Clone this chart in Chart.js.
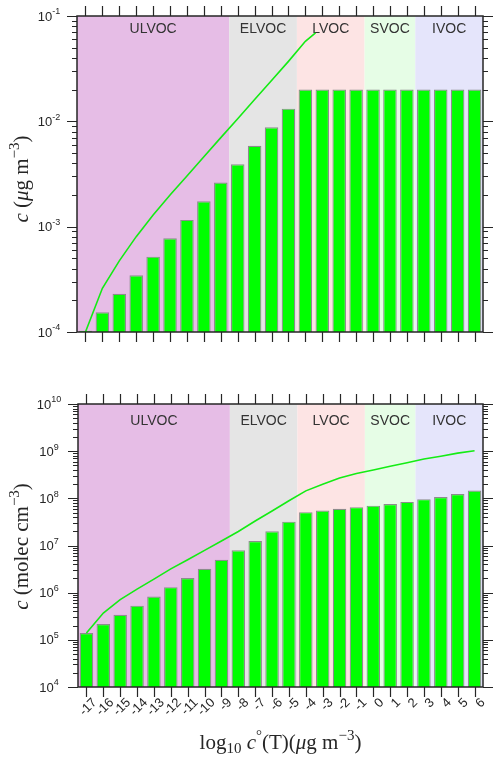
<!DOCTYPE html>
<html>
<head>
<meta charset="utf-8">
<script src="https://cdn.jsdelivr.net/npm/chart.js@4.4.1/dist/chart.umd.min.js"></script>
<style>
  body { margin: 0; background: #fff; }
  #wrap { position: relative; width: 500px; height: 759px; }
  canvas { position: absolute; left: 0; }
</style>
</head>
<body>
<div id="wrap">
  <canvas id="massChart" width="500" height="380" style="top:0"></canvas>
  <canvas id="molecChart" width="500" height="379" style="top:380px"></canvas>
</div>
<script>
// ===== DATA =====
const binCenters = [-17, -16, -15, -14, -13, -12, -11, -10, -9, -8, -7, -6, -5, -4, -3, -2, -1, 0, 1, 2, 3, 4, 5, 6];

// top panel: mass concentration (ug m-3)
const massBars = [1.03e-4, 1.54e-4, 2.31e-4, 3.45e-4, 5.19e-4, 7.76e-4, 1.16e-3, 1.74e-3, 2.62e-3, 3.91e-3, 5.87e-3, 8.79e-3, 1.32e-2,
                  0.02, 0.02, 0.02, 0.02, 0.02, 0.02, 0.02, 0.02, 0.02, 0.02, 0.02];
const massLineX = [-17, -16, -15, -14, -13, -12, -11, -10, -9, -8, -7, -6, -5, -4, -3.4];
const massLineY = [1.0e-4, 2.6e-4, 4.73e-4, 8.04e-4, 1.29e-3, 2.0e-3, 3.03e-3, 4.61e-3, 7.0e-3, 1.06e-2, 1.61e-2, 2.44e-2, 3.71e-2, 5.75e-2, 6.9e-2];
const massTickExps = [-4, -3, -2, -1];

// bottom panel: number concentration (molec cm-3)
const molecBars = [1.39e5, 2.16e5, 3.4e5, 5.3e5, 8.3e5, 1.31e6, 2.04e6, 3.2e6, 5.0e6, 7.9e6, 1.25e7, 2.0e7, 3.2e7,
                   5.1e7, 5.5e7, 6.0e7, 6.5e7, 7.0e7, 7.6e7, 8.4e7, 9.6e7, 1.07e8, 1.23e8, 1.46e8];
const molecLineX = binCenters;
const molecLineY = [1.39e5, 3.7e5, 7.1e5, 1.19e6, 1.94e6, 3.2e6, 4.98e6, 7.9e6, 1.25e7, 1.98e7, 3.3e7, 5.4e7, 8.9e7,
                    1.44e8, 2.0e8, 2.7e8, 3.35e8, 4.0e8, 4.8e8, 5.7e8, 6.8e8, 7.8e8, 9.1e8, 1.02e9];
const molecTickExps = [4, 5, 6, 7, 8, 9, 10];

// volatility classes
const classNames = ['ULVOC', 'ELVOC', 'LVOC', 'SVOC', 'IVOC'];
const classEdges = [-17.5, -8.5, -4.5, -0.5, 2.5, 6.5];
const classColors = ['#e6bde6', '#e5e5e5', '#fde4e4', '#e6fde6', '#e5e5fb'];

const ink = '#262626';

// ===== helpers =====
function drawRich(ctx, parts, size, cx, cy, angle) {
    const fontFor = p => (p.it ? 'italic ' : '') + Math.round(p.sup || p.sub ? size * 0.7 : size) + 'px "Liberation Serif", serif';
    ctx.save();
    ctx.translate(cx, cy);
    ctx.rotate(angle);
    let w = 0;
    parts.forEach(p => { ctx.font = fontFor(p); w += ctx.measureText(p.t).width; });
    let x = -w / 2;
    ctx.fillStyle = ink;
    ctx.textAlign = 'left';
    ctx.textBaseline = 'alphabetic';
    parts.forEach(p => {
        ctx.font = fontFor(p);
        const dy = p.sup ? -size * 0.42 : p.sub ? size * 0.22 : 0;
        ctx.fillText(p.t, x, size * 0.32 + dy);
        x += ctx.measureText(p.t).width;
    });
    ctx.restore();
}

function panelPlugin(cfg) {
    return {
        id: 'panel_' + cfg.name,
        beforeDatasetsDraw(chart) {
            const { ctx, chartArea: a } = chart;
            const x = chart.scales.x;
            ctx.save();
            classNames.forEach((name, i) => {
                const l = x.getPixelForValue(classEdges[i]);
                const r = x.getPixelForValue(classEdges[i + 1]);
                ctx.fillStyle = classColors[i];
                ctx.fillRect(l, a.top, r - l, a.bottom - a.top);
                ctx.fillStyle = '#333';
                ctx.font = '14px "Liberation Sans", Arial, sans-serif';
                ctx.textAlign = 'center';
                ctx.textBaseline = 'middle';
                ctx.fillText(name, (l + r) / 2, a.top + cfg.classLabelDy);
            });
            ctx.restore();
        },
        afterDraw(chart) {
            const { ctx, chartArea: a } = chart;
            const x = chart.scales.x, y = chart.scales.y;
            ctx.save();
            ctx.strokeStyle = ink;
            ctx.lineWidth = 1.2;
            ctx.beginPath();
            binCenters.forEach(c => {
                const px = Math.round(x.getPixelForValue(c)) + 0.5;
                ctx.moveTo(px, a.top); ctx.lineTo(px, a.top - 10);
                ctx.moveTo(px, a.bottom); ctx.lineTo(px, a.bottom + 10);
            });
            const exps = cfg.tickExps;
            exps.forEach((e, k) => {
                for (let m = 1; m <= 9; m++) {
                    if (k === exps.length - 1 && m > 1) break;
                    const py = Math.round(y.getPixelForValue(m * Math.pow(10, e))) + 0.5;
                    const len = m === 1 ? 10 : 5;
                    ctx.moveTo(a.left, py); ctx.lineTo(a.left - len, py);
                    ctx.moveTo(a.right, py); ctx.lineTo(a.right + len, py);
                }
            });
            ctx.stroke();
            ctx.lineWidth = 1.5;
            ctx.strokeRect(a.left, a.top, a.right - a.left, a.bottom - a.top);

            // y tick labels 10^n
            ctx.fillStyle = ink;
            ctx.textAlign = 'left';
            ctx.textBaseline = 'middle';
            exps.forEach(e => {
                const py = y.getPixelForValue(Math.pow(10, e));
                const expTxt = String(e);
                ctx.font = '13px "Liberation Sans", Arial, sans-serif';
                const wb = ctx.measureText('10').width;
                ctx.font = '9px "Liberation Sans", Arial, sans-serif';
                const we = ctx.measureText(expTxt).width;
                const x0 = 49 - (wb + we) / 2;
                ctx.font = '13px "Liberation Sans", Arial, sans-serif';
                ctx.fillText('10', x0, py + 1);
                ctx.font = '9px "Liberation Sans", Arial, sans-serif';
                ctx.fillText(expTxt, x0 + wb, py - 4);
            });

            drawRich(ctx, cfg.yTitle, 21, 21, (a.top + a.bottom) / 2 + cfg.yTitleDy, -Math.PI / 2);
            if (cfg.xTitle) {
                drawRich(ctx, cfg.xTitle, 21, (a.left + a.right) / 2, cfg.xTitleY, 0);
            }
            ctx.restore();
        }
    };
}

function makeChart(id, cfg) {
    return new Chart(document.getElementById(id), {
        type: 'bar',
        data: {
            datasets: [
                {
                    type: 'line',
                    data: cfg.lineX.map((v, i) => ({ x: v, y: cfg.lineY[i] })),
                    borderColor: '#14ec14',
                    borderWidth: 1.6,
                    pointRadius: 0,
                    tension: 0,
                    fill: false,
                    order: 0
                },
                {
                    data: binCenters.map((v, i) => ({ x: v, y: cfg.bars[i] })),
                    backgroundColor: '#00ff00',
                    borderColor: '#8c8c8c',
                    borderWidth: 1.2,
                    barPercentage: 0.8,
                    categoryPercentage: 1.0,
                    order: 1
                }
            ]
        },
        options: {
            responsive: false,
            animation: false,
            layout: { padding: { top: cfg.padTop, right: 17, bottom: 0, left: 0 } },
            plugins: { legend: { display: false }, tooltip: { enabled: false } },
            scales: {
                x: {
                    type: 'linear',
                    offset: false,
                    min: classEdges[0],
                    max: classEdges[classEdges.length - 1],
                    grid: { display: false, drawTicks: false },
                    border: { display: false },
                    afterBuildTicks(s) { s.ticks = binCenters.map(v => ({ value: v })); },
                    ticks: {
                        display: cfg.showXLabels,
                        autoSkip: false,
                        minRotation: 45,
                        maxRotation: 45,
                        labelOffset: 8.5,
                        padding: 8,
                        color: ink,
                        font: { family: '"Liberation Sans", Arial, sans-serif', size: 13 },
                        callback: v => String(v)
                    },
                    afterFit(s) { s.height = cfg.xHeight; }
                },
                y: {
                    type: 'logarithmic',
                    min: Math.pow(10, cfg.tickExps[0]),
                    max: Math.pow(10, cfg.tickExps[cfg.tickExps.length - 1]),
                    grid: { display: false, drawTicks: false },
                    border: { display: false },
                    ticks: { display: false },
                    afterFit(s) { s.width = cfg.yWidth; }
                }
            }
        },
        plugins: [panelPlugin(cfg)]
    });
}

// ===== top: mass =====
makeChart('massChart', {
    name: 'mass',
    bars: massBars, lineX: massLineX, lineY: massLineY, tickExps: massTickExps,
    padTop: 16, xHeight: 48, yWidth: 77, showXLabels: false,
    classLabelDy: 13, yTitleDy: 5,
    yTitle: [{ t: 'c', it: true }, { t: ' (' }, { t: 'μ', it: true }, { t: 'g m' }, { t: '−3', sup: true }, { t: ')' }]
});

// ===== bottom: molecules =====
makeChart('molecChart', {
    name: 'molec',
    bars: molecBars, lineX: molecLineX, lineY: molecLineY, tickExps: molecTickExps,
    padTop: 24, xHeight: 72, yWidth: 78, showXLabels: true,
    classLabelDy: 17.5, yTitleDy: 1,
    yTitle: [{ t: 'c', it: true }, { t: ' (molec cm' }, { t: '−3', sup: true }, { t: ')' }],
    xTitle: [{ t: 'log' }, { t: '10', sub: true }, { t: ' ' }, { t: 'c', it: true }, { t: '°', sup: true }, { t: '(T)(' },
             { t: 'μ', it: true }, { t: 'g m' }, { t: '−3', sup: true }, { t: ')' }],
    xTitleY: 362
});
</script>
</body>
</html>
